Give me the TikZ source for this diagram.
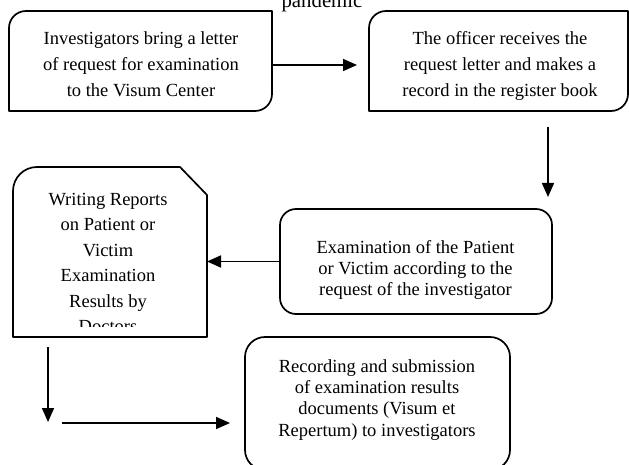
\documentclass[tikz,border=0pt]{standalone}
\usepackage{fontspec}
\setmainfont{Liberation Serif}
\usetikzlibrary{arrows.meta}
\begin{document}
\begin{tikzpicture}[x=1pt, y=1pt, >={Triangle[length=14pt,width=12pt]}]
        \tikzstyle{stepbox} = [rectangle, draw, line width=1.7pt, rounded corners=16pt, outer sep=0pt, inner sep=0pt]
        \tikzstyle{shapebox} = [rectangle, draw=none, outer sep=0pt, inner sep=0pt]
        \tikzstyle{outline} = [line width=1.7pt, line join=round]
        \tikzstyle{txt} = [align=center, inner sep=0pt, anchor=base]
        \tikzstyle{arr} = [line width=1.7pt, ->]
        \clip (0,0) rectangle (629,464);
        % boxes
        \node [shapebox, minimum width=263pt, minimum height=100pt] (b1) at (140.5,403) {};
        \node [shapebox, minimum width=259pt, minimum height=100pt] (b2) at (498.5,403) {};
        \node [shapebox, minimum width=194pt, minimum height=170pt] (b3) at (110,212) {};
        \node [stepbox, minimum width=272pt, minimum height=105pt] (b4) at (416,202.5) {};
        \node [stepbox, minimum width=265pt, minimum height=133pt, rounded corners=20pt] (b5) at (377.5,60.5) {};
        \draw [outline] (b1.north east) -- ([yshift=17pt]b1.south east) arc[start angle=0, end angle=-90, radius=17pt] -- (b1.south west) -- ([yshift=-17pt]b1.north west) arc[start angle=180, end angle=90, radius=17pt] -- cycle;
        \draw [outline] (b2.north east) -- ([yshift=17pt]b2.south east) arc[start angle=0, end angle=-90, radius=17pt] -- (b2.south west) -- ([yshift=-17pt]b2.north west) arc[start angle=180, end angle=90, radius=17pt] -- cycle;
        \draw [outline] (b3.south east) -- ([yshift=-28pt]b3.north east) -- ([xshift=-27pt]b3.north east) -- ([xshift=24pt]b3.north west) arc[start angle=90, end angle=180, radius=24pt] -- (b3.south west) -- cycle;
        % texts (base = last line)
        \node [font=\fontsize{20.8}{24}\selectfont, anchor=base] (title) at (322,456) {pandemic};
        \node [txt, font=\fontsize{18.5}{26}\selectfont] (t1) at (141,367) {Investigators bring a letter\\of request for examination\\to the Visum Center};
        \node [txt, font=\fontsize{18.5}{26}\selectfont] (t2) at (500,367) {The officer receives the\\request letter and makes a\\record in the register book};
        \begin{scope}
            \clip (b3.north west) rectangle ([yshift=11pt]b3.south east);
            \node [txt, font=\fontsize{18.5}{25.5}\selectfont] (t3) at (108,131.5) {Writing Reports\\on Patient or\\Victim\\Examination\\Results by\\Doctors};
        \end{scope}
        \node [txt, font=\fontsize{18.5}{21.5}\selectfont] (t4) at (415.5,168) {Examination of the Patient\\or Victim according to the\\request of the investigator};
        \node [txt, font=\fontsize{18.5}{21.3}\selectfont] (t5) at (377,28) {Recording and submission\\of examination results\\documents (Visum et\\Repertum) to investigators};
        % arrows
        \coordinate (c1) at (48,42);
        \coordinate (c2) at (62,41);
        \draw [arr, shorten >=12pt] ([yshift=-4pt]b1.east) -- ([yshift=-4pt]b2.west);
        \draw [arr, shorten <=16pt, shorten >=12pt] ([xshift=49.5pt]b2.south) -- ([xshift=49.5pt]b2.south |- b4.north);
        \draw [arr] (b4.west) -- (b4.west -| b3.east);
        \draw [arr, shorten <=10pt] ([xshift=-62pt]b3.south) -- (c1);
        \draw [arr, shorten >=15pt] (c2) -- (c2 -| b5.west);
\end{tikzpicture}
\end{document}
